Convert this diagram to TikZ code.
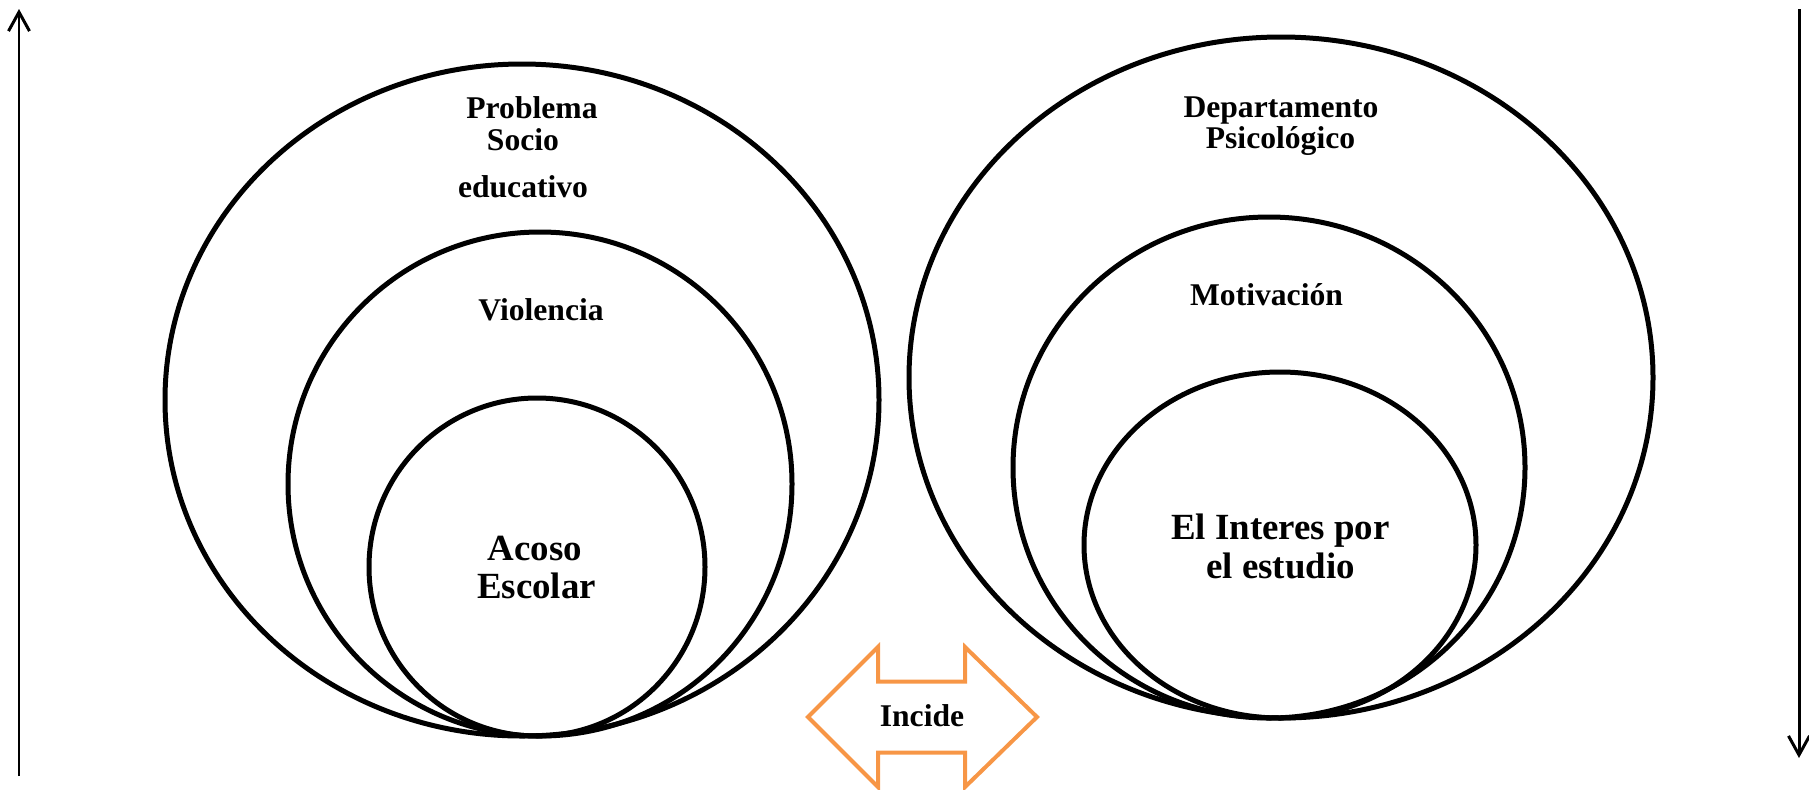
\documentclass[tikz,border=0pt]{standalone}
\usepackage{fontspec}
\setmainfont{Liberation Serif}
\usetikzlibrary{arrows.meta}
\definecolor{incideorange}{HTML}{F79646}

\begin{document}
\begin{tikzpicture}[x=0.02cm, y=-0.02cm,
		ring/.style={draw, line width=0.1cm},
		lbl/.style={font=\bfseries\fontsize{18}{20}\selectfont, inner sep=0pt, anchor=base},
		biglbl/.style={font=\bfseries\fontsize{21}{24}\selectfont, inner sep=0pt, anchor=base}]
				\useasboundingbox (0,0) rectangle (1809,789);
				
				% side arrows
				\coordinate (l0) at (19,776);
				\coordinate (l1) at (19,9);
				\coordinate (r0) at (1799,9);
				\coordinate (r1) at (1799,758);
				\draw[line width=0.06cm, -{Straight Barb[length=0.38cm, width=0.42cm]}] (l0) -- (l1);
				\draw[line width=0.06cm, -{Straight Barb[length=0.38cm, width=0.42cm]}] (r0) -- (r1);
				
				\def\rings {522/400/357/336, 540/484/252/252, 537/567/168/169, 1281/377.5/372/340.5, 1269/467.5/256/250.5, 1280/545/196/173}  % list elements
				\foreach \cx/\cy/\rx/\ry in \rings
				{	\draw[ring] (\cx,\cy) ellipse [x radius=\rx, y radius=\ry];
				}
				
				\node[lbl] (prob) at (532,118)   {Problema};
				\node[lbl] (socio) at (523,150)  {Socio};
				\node[lbl] (educ) at (523,197)   {educativo};
				\node[lbl] (viol) at (541,320)   {Violencia};
				\node[biglbl] (acoso) at (535,560)  {Acoso};
				\node[biglbl] (escolar) at (536.5,598) {Escolar};
				
				\node[lbl] (depto) at (1281,117)  {Departamento};
				\node[lbl] (psico) at (1280.5,148) {Psicológico};
				\node[lbl] (motiv) at (1266.5,305) {Motivación};
				\node[biglbl] (interes) at (1280.5,539) {El Interes por};
				\node[biglbl] (estudio) at (1280.5,578) {el estudio};
				
				% double arrow
				\draw[incideorange, line width=0.08cm, line join=miter]
					(808,717) -- (878,647) -- (878,681.5) -- (965,681.5) -- (965,647) -- (1037,717)
					-- (965,787) -- (965,752.5) -- (878,752.5) -- (878,787) -- cycle;
				\node[lbl] (incide) at (922,726) {Incide};
				
			\end{tikzpicture}
\end{document}
